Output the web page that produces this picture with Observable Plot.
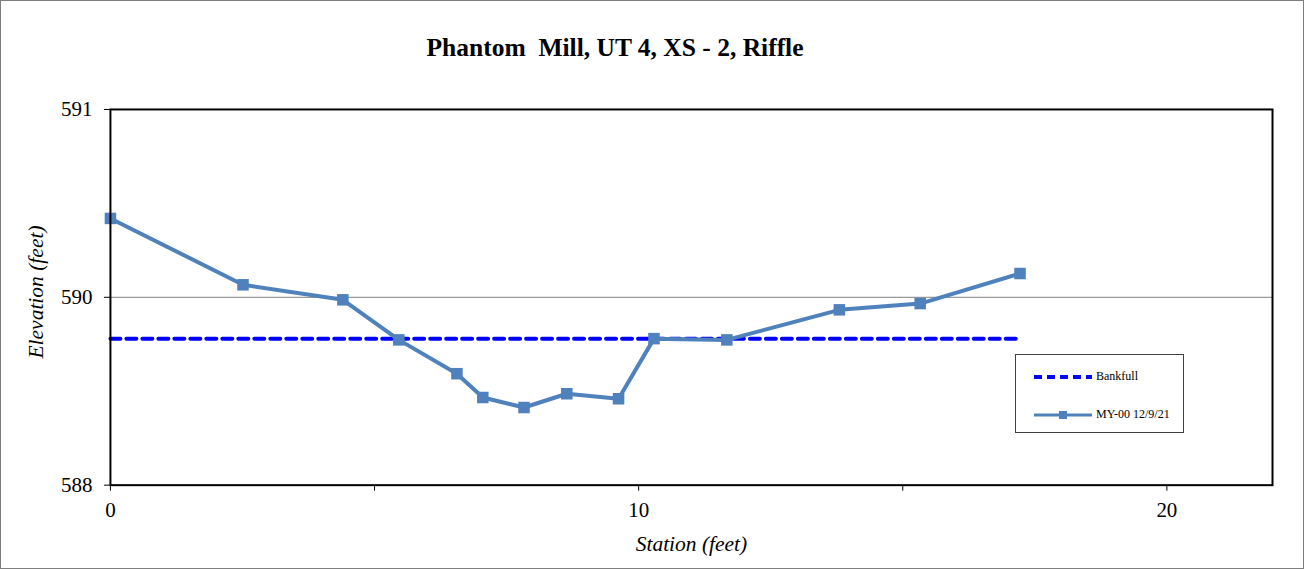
<!DOCTYPE html>
<html>
<head>
<meta charset="utf-8">
<script src="https://cdn.jsdelivr.net/npm/d3@7"></script>
<script src="https://cdn.jsdelivr.net/npm/@observablehq/plot@0.6"></script>
<style>
  html, body { margin: 0; padding: 0; background: #fff; }
  #wrap { position: relative; width: 1304px; height: 569px; box-sizing: border-box; border: 1px solid #7f7f7f; overflow: hidden; font-family: "Liberation Serif", "Times New Roman", serif; }
  #title { position: absolute; left: 0; top: 34px; width: 1228px; height: 26px; text-align: center; font-weight: bold; font-size: 25.5px; line-height: 26px; white-space: pre; color: #000; }
  #ylabel { position: absolute; left: 35px; top: 291px; transform: translate(-50%, -50%) rotate(-90deg); font-style: italic; font-size: 21.5px; line-height: 24px; white-space: nowrap; color: #000; }
  #chart { position: absolute; left: -1px; top: 59px; }
  #legend { position: absolute; left: 1014px; top: 353px; width: 169px; height: 79px; border: 1px solid #404040; background: #fff; box-sizing: border-box; font-size: 12px; }
  .lrow { position: absolute; left: 0; display: flex; align-items: center; }
  .lrow svg { display: block; }
  .lrow span { margin-left: 2px; }
</style>
</head>
<body>
<div id="wrap">
  <div id="title">Phantom  Mill, UT 4, XS - 2, Riffle</div>
  <div id="chart"></div>
  <div id="ylabel">Elevation (feet)</div>
  <div id="legend">
    <div class="lrow" style="top:14px;left:16px;"><svg width="62" height="10"><line x1="2" y1="5" x2="60" y2="5" stroke="#0000FF" stroke-width="4" stroke-dasharray="8,5"/></svg><span>Bankfull</span></div>
    <div class="lrow" style="top:52px;left:16px;"><svg width="62" height="10"><line x1="2" y1="5" x2="60" y2="5" stroke="#4F81BD" stroke-width="3"/><rect x="27" y="1" width="8" height="8" fill="#4F81BD"/></svg><span>MY-00 12/9/21</span></div>
  </div>
</div>
<script>
// Survey data
const station = [0, 2.51, 4.40, 5.46, 6.56, 7.05, 7.83, 8.64, 9.62, 10.29, 11.67, 13.80, 15.33, 17.22];
const elevation = [590.13, 589.60, 589.48, 589.16, 588.89, 588.70, 588.62, 588.73, 588.69, 589.17, 589.16, 589.40, 589.45, 589.69];
const bankfullStation = [0, 17.22];
const bankfullElevation = [589.17, 589.17];
const xTicks = [0, 5, 10, 15, 20];
const xTickLabels = ["0", "", "10", "", "20"];
const yTicks = [588, 589.5, 591];
const yTickLabels = ["588", "590", "591"];

const survey = station.map((s, i) => ({x: s, y: elevation[i]}));
const bankfull = bankfullStation.map((s, i) => ({x: s, y: bankfullElevation[i]}));

const plot = Plot.plot({
  width: 1304,
  height: 510,
  marginLeft: 110,
  marginRight: 31,
  marginTop: 49,
  marginBottom: 85,
  style: {fontFamily: "'Liberation Serif', 'Times New Roman', serif", fontSize: "21px", color: "#000", background: "transparent"},
  x: {domain: [0, 22]},
  y: {domain: [588, 591]},
  marks: [
    Plot.ruleY([589.5], {stroke: "#808080", strokeWidth: 1}),
    Plot.axisX({ticks: xTicks, tickFormat: (d) => xTickLabels[xTicks.indexOf(d)], tickSize: 6, tickPadding: 11, label: null, stroke: "#000"}),
    Plot.axisY({ticks: yTicks, tickFormat: d => yTickLabels[yTicks.indexOf(d)], tickSize: 6, tickPadding: 12, label: null, stroke: "#000"}),
    Plot.line(bankfull, {x: "x", y: "y", stroke: "#0000FF", strokeWidth: 4, strokeDasharray: "10,6"}),
    Plot.line(survey, {x: "x", y: "y", stroke: "#4F81BD", strokeWidth: 4}),
    Plot.dot(survey, {x: "x", y: "y", symbol: "square", r: 6.5, fill: "#4F81BD", stroke: "none"}),
    Plot.frame({stroke: "#000", strokeWidth: 2}),
    Plot.text(["Station (feet)"], {frameAnchor: "bottom", dy: 66, fontStyle: "italic", fontSize: 21.5, fill: "#000"})
  ]
});
document.getElementById("chart").appendChild(plot);
</script>
</body>
</html>
